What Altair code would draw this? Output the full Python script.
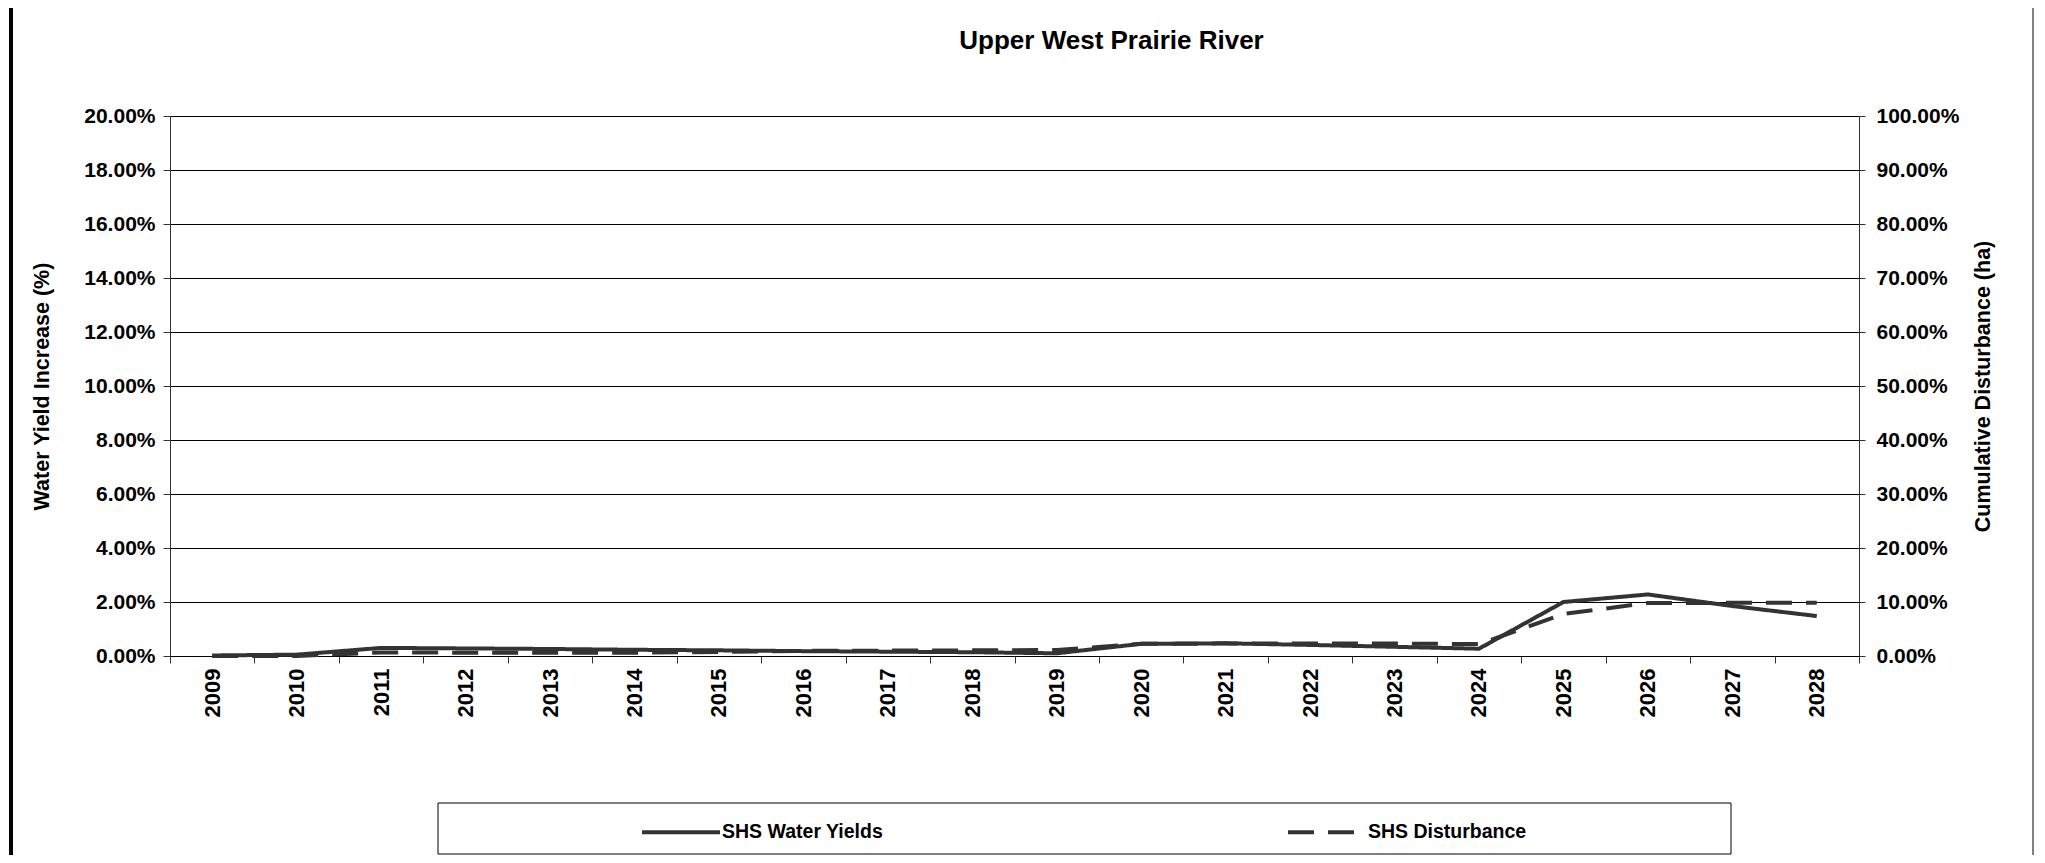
import altair as alt
import pandas as pd

years = ["2009", "2010", "2011", "2012", "2013", "2014", "2015", "2016", "2017", "2018",
         "2019", "2020", "2021", "2022", "2023", "2024", "2025", "2026", "2027", "2028"]
water_yield = [0.0002, 0.0005, 0.0030, 0.0028, 0.0026, 0.0023, 0.0021, 0.0018, 0.0016, 0.0014,
               0.0010, 0.0045, 0.0047, 0.0041, 0.0034, 0.0027, 0.0200, 0.0228, 0.0185, 0.0148]
disturbance = [0.0, 0.0, 0.0065, 0.0062, 0.0062, 0.0060, 0.0075, 0.0095, 0.0100, 0.0105,
               0.0110, 0.0225, 0.0230, 0.0230, 0.0230, 0.0220, 0.0780, 0.0980, 0.0985, 0.0985]
series_names = ["SHS Water Yields", "SHS Disturbance"]
left_ticks = [0.0, 0.02, 0.04, 0.06, 0.08, 0.10, 0.12, 0.14, 0.16, 0.18, 0.20]
right_ticks = [0.0, 0.1, 0.2, 0.3, 0.4, 0.5, 0.6, 0.7, 0.8, 0.9, 1.0]

FONT = "Liberation Sans"
LINE = "#333333"

df_wy = pd.DataFrame({"year": years, "value": water_yield, "series": series_names[0]})
df_d = pd.DataFrame({"year": years, "value": disturbance, "series": series_names[1]})

xenc = alt.X(
    "year:O",
    bandPosition=0.5,
    scale=alt.Scale(type="band", paddingInner=0, paddingOuter=0),
    axis=alt.Axis(
        title=None, labelAngle=-90, tickBand="extent", labelFont=FONT, labelFontSize=22,
        labelFontWeight="bold", labelColor="black", tickSize=7, tickColor="#333333",
        domainColor="black", labelPadding=5, grid=False,
    ),
)

dash_scale = alt.Scale(domain=series_names, range=[[1, 0], [26, 14]])
dash_legend = alt.Legend(
    title=None, orient="none", direction="horizontal", legendX=470, legendY=675,
    symbolType="stroke", symbolSize=6084, symbolStrokeWidth=4, symbolStrokeColor=LINE,
    labelFont=FONT, labelFontSize=19.5, labelFontWeight="bold", labelColor="black",
    labelOffset=0, columnPadding=396, labelLimit=400, padding=0,
)

line_wy = alt.Chart(df_wy).mark_line(color=LINE, strokeWidth=4).encode(
    x=xenc,
    y=alt.Y(
        "value:Q",
        scale=alt.Scale(domain=[0, 0.2], nice=False, zero=True),
        axis=alt.Axis(
            title="Water Yield Increase (%)", orient="left", format=".2%", values=left_ticks,
            labelFont=FONT, labelFontSize=21, labelFontWeight="bold", labelColor="black",
            titleFont=FONT, titleFontSize=21.5, titleFontWeight="bold", titleColor="black",
            titleAngle=270, titleX=-128, titleY=270, titleAlign="center", titleBaseline="middle",
            tickSize=7, tickColor="#333333", domainColor="#333333", labelPadding=8,
            grid=True, gridColor="black", gridWidth=1, gridOpacity=1,
        ),
    ),
    strokeDash=alt.StrokeDash("series:N", scale=dash_scale, legend=dash_legend),
)

line_d = alt.Chart(df_d).mark_line(color=LINE, strokeWidth=4).encode(
    x=xenc,
    y=alt.Y(
        "value:Q",
        scale=alt.Scale(domain=[0, 1], nice=False, zero=True),
        axis=alt.Axis(
            title="Cumulative Disturbance (ha)", orient="right", format=".2%", values=right_ticks,
            labelFont=FONT, labelFontSize=21, labelFontWeight="bold", labelColor="black",
            titleFont=FONT, titleFontSize=21.5, titleFontWeight="bold", titleColor="black",
            titleAngle=270, titleX=124, titleY=270, titleAlign="center", titleBaseline="middle",
            tickSize=6, tickColor="#333333", domainColor="#333333", labelPadding=11,
            grid=False,
        ),
    ),
    strokeDash=alt.StrokeDash("series:N", scale=dash_scale, legend=dash_legend),
)

one = pd.DataFrame({"k": [0]})
legend_box = alt.Chart(one).mark_rect(fill="white", stroke="black", strokeWidth=1).encode(
    x=alt.value(268), x2=alt.value(1561), y=alt.value(687), y2=alt.value(738)
)
frame_left = alt.Chart(one).mark_rule(color="black", strokeWidth=4).encode(
    x=alt.value(-159), y=alt.value(-116), y2=alt.value(747)
)
frame_top = alt.Chart(one).mark_rule(color="black", strokeWidth=1).encode(
    x=alt.value(-158), x2=alt.value(1863), y=alt.value(-113)
)
frame_right = alt.Chart(one).mark_rule(color="black", strokeWidth=1).encode(
    x=alt.value(1863), y=alt.value(-113), y2=alt.value(747)
)

chart = (
    alt.layer(legend_box, frame_left, frame_top, frame_right, line_wy, line_d)
    .resolve_scale(y="independent", strokeDash="shared")
    .properties(
        width=1689, height=540,
        padding={"left": 162, "top": 108, "right": 178, "bottom": 199},
        autosize=alt.AutoSizeParams(type="none"),
        title=alt.TitleParams(
            "Upper West Prairie River", font=FONT, fontSize=26, fontWeight="bold",
            color="black", anchor="middle", frame="group", dx=97, offset=-56,
        ),
    )
    .configure_view(stroke=None)
    .configure(background="white")
)

chart.save("out.html", embed_options={"renderer": "svg", "actions": False})
